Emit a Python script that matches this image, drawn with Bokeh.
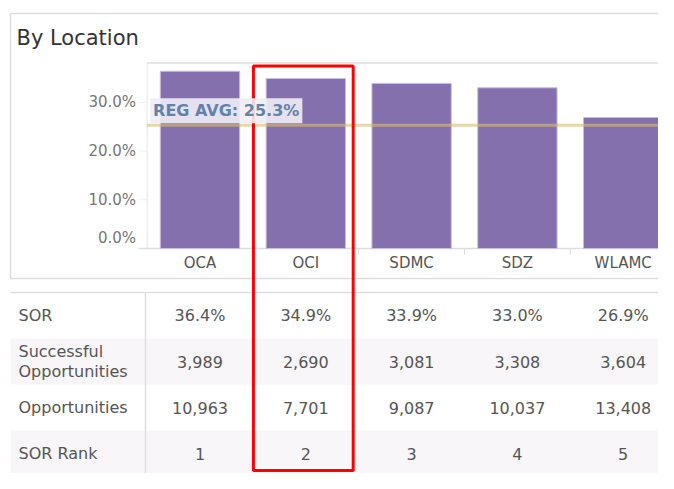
from bokeh.plotting import figure
from bokeh.models import Range1d, ColumnDataSource, Label
from bokeh.core.properties import value
from bokeh.embed import file_html
from bokeh.resources import INLINE

# ---------------- data ----------------
title = "By Location"
locations = ["OCA", "OCI", "SDMC", "SDZ", "WLAMC"]
sor = [36.4, 34.9, 33.9, 33.0, 26.9]
successful = [3989, 2690, 3081, 3308, 3604]
opportunities = [10963, 7701, 9087, 10037, 13408]
sor_rank = [1, 2, 3, 4, 5]
reg_avg = 25.3
y_ticks = [0, 10, 20, 30]
row_labels = ["SOR", "Successful\nOpportunities", "Opportunities", "SOR Rank"]
highlight = "OCI"

# ---------------- layout (canvas pixels) ----------------
W, H = 658, 473
X0, CW = 199.5, 105.8      # centre of first category, category width
Y0, PY = 248.0, 4.87       # 0% baseline, pixels per percent
R0, RH = 292.0, 46.0       # table top, row height

def xd(cx):
    return (cx - X0) / CW

def yd(cy):
    return (Y0 - cy) / PY

def rd(cy):
    return (cy - R0) / RH

FONT_NAME = "DejaVu Sans"
FONT = value(FONT_NAME)
GRID = "#dedede"
TXT = "#555555"

p = figure(width=W, height=H, output_backend="svg", toolbar_location=None,
           x_range=Range1d(xd(0), xd(W)), y_range=Range1d(yd(H), yd(0)),
           x_axis_location=None, y_axis_location=None, min_border=0,
           outline_line_color=None, background_fill_color="white",
           border_fill_color="white")
p.extra_y_ranges = {"rows": Range1d(rd(H), rd(0))}
p.grid.visible = False

idx = list(range(len(locations)))
x_end = xd(W) + 1

# ---------------- table background ----------------
nrows = len(row_labels)
shade_rows = [r for r in range(nrows) if r % 2 == 1]
p.quad(left=xd(10), right=x_end, top=shade_rows, bottom=[r + 1 for r in shade_rows],
       y_range_name="rows", fill_color="#f9f6f9", line_color=None)
p.segment(x0=xd(10), x1=x_end, y0=0, y1=0, y_range_name="rows",
          line_color=GRID, line_width=1.5)
p.segment(x0=xd(145), x1=xd(145), y0=0, y1=nrows, y_range_name="rows",
          line_color=GRID, line_width=1.5)

# ---------------- panel frame ----------------
p.segment(x0=[xd(10), xd(10), xd(10)], x1=[x_end, xd(10), x_end],
          y0=[yd(13), yd(13), yd(278)], y1=[yd(13), yd(278), yd(278)],
          line_color=GRID, line_width=1.5)
p.text(x=[xd(16)], y=[yd(37)], text=[title], text_font=FONT,
       text_font_size="21px", text_color="#333333",
       text_align="left", text_baseline="middle")

# plot area lines
p.segment(x0=-0.5, x1=x_end, y0=yd(62.5), y1=yd(62.5), line_color=GRID, line_width=1.5)
p.segment(x0=-0.5, x1=-0.5, y0=0, y1=yd(62.5), line_color="#e6e6e6", line_width=1)
p.segment(x0=xd(138), x1=x_end, y0=0, y1=0, line_color=GRID, line_width=1.5)
p.segment(x0=xd(138), x1=-0.5, y0=y_ticks[1:], y1=y_ticks[1:], line_color="#eeeeee", line_width=1)
bounds = [i + 0.5 for i in idx]
p.segment(x0=bounds, x1=bounds, y0=0, y1=yd(254), line_color=GRID, line_width=1)

# bars
src = ColumnDataSource(dict(x=idx, top=sor, loc=locations))
p.vbar(x="x", top="top", bottom=0, width=0.75, source=src,
       fill_color="#8470ad", line_color="#c8bee0", line_width=1)

# y tick labels
tick_txt = [f"{t:.1f}%" for t in y_ticks]
p.text(x=[-0.5] * (len(y_ticks) - 1), y=y_ticks[1:], text=tick_txt[1:], x_offset=-11,
       text_font=FONT, text_font_size="15px", text_color="#777777",
       text_align="right", text_baseline="middle")
p.text(x=[-0.5], y=[y_ticks[0]], text=[tick_txt[0]], x_offset=-11, y_offset=-2,
       text_font=FONT, text_font_size="15px", text_color="#777777",
       text_align="right", text_baseline="bottom")

# x category labels
p.text(x="x", y=0, text="loc", source=src, y_offset=14,
       text_font=FONT, text_font_size="15px", text_color=TXT,
       text_align="center", text_baseline="middle")

# regional average reference line + label
p.segment(x0=-0.5, x1=x_end, y0=reg_avg, y1=reg_avg,
          line_color="#d8bd70", line_alpha=0.6, line_width=3)
p.add_layout(Label(x=-0.5, y=reg_avg, x_offset=3, y_offset=2,
                   text=f"REG AVG: {reg_avg:.1f}%", text_font=FONT_NAME,
                   text_font_size="16px", text_font_style="bold",
                   text_color="#6183ab", text_baseline="bottom", text_align="left",
                   background_fill_color="#f0edf5", background_fill_alpha=0.9,
                   padding=3))

# ---------------- table cells ----------------
cell_x, cell_y, cell_t = [], [], []
rows_vals = [
    [f"{v:.1f}%" for v in sor],
    [f"{v:,}" for v in successful],
    [f"{v:,}" for v in opportunities],
    [str(v) for v in sor_rank],
]
for r, vals in enumerate(rows_vals):
    for i, t in enumerate(vals):
        cell_x.append(i)
        cell_y.append(r + 0.5)
        cell_t.append(t)
p.text(x=cell_x, y=cell_y, text=cell_t, y_range_name="rows",
       text_font=FONT, text_font_size="16px", text_color=TXT,
       text_align="center", text_baseline="middle")
p.text(x=[xd(10)] * nrows, y=[r + 0.5 for r in range(nrows)], text=row_labels,
       x_offset=8, y_range_name="rows", text_font=FONT, text_font_size="16px",
       text_color=TXT, text_align="left", text_baseline="middle",
       text_line_height=1.07)

# ---------------- highlight box ----------------
hi = locations.index(highlight)
p.quad(left=hi - 0.495, right=hi + 0.448, top=rd(65.5), bottom=rd(470),
       y_range_name="rows", fill_color=None, line_color="#ff0000", line_width=3)

open("out.html", "w").write(file_html(p, INLINE))
